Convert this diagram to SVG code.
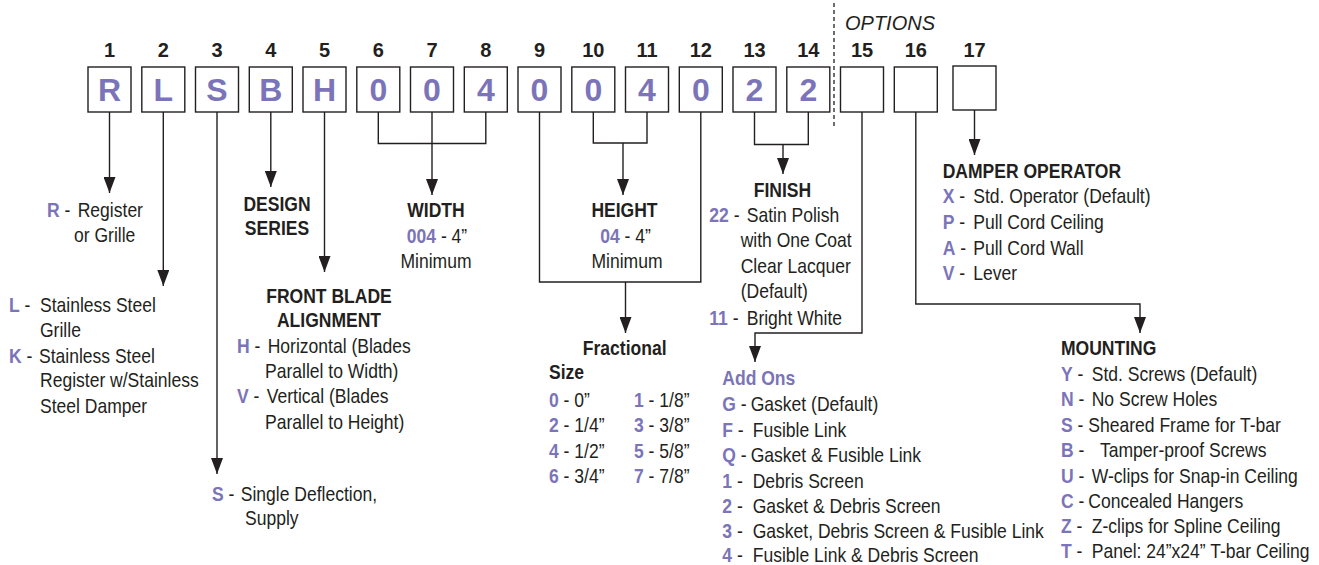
<svg xmlns="http://www.w3.org/2000/svg" width="1319" height="565" viewBox="0 0 1319 565">
<style>
text{font-family:"Liberation Sans",Arial,sans-serif;font-size:21px;fill:#231f20}
.b{font-weight:bold}
.k{font-weight:bold;fill:#7b74b8}
.n{font-weight:bold;font-size:20px;text-anchor:middle}
.c{text-anchor:middle}
.bx{fill:#fff;stroke:#231f20;stroke-width:1.4}
.bl{font-size:32px;font-weight:bold;fill:#7b74b8;text-anchor:middle}
.ln{fill:none;stroke:#231f20;stroke-width:1.4}
.opt{font-style:italic;font-size:20px}
</style>
<defs>
<marker id="ah" markerUnits="userSpaceOnUse" markerWidth="16" markerHeight="12" viewBox="0 0 16 12" refX="16" refY="6" orient="auto">
<path d="M0,0 L16,6 L0,12 Z" fill="#231f20"/>
</marker>
</defs>
<rect width="1319" height="565" fill="#fff"/>

<g id="header">
<text class="opt" x="845" y="30">OPTIONS</text>
<line x1="834" y1="3" x2="834" y2="128" stroke="#231f20" stroke-width="1.3" stroke-dasharray="4,3"/>
</g>

<g id="boxes">
<g id="box1"><text class="n" x="109.5" y="57">1</text><rect class="bx" x="88" y="67" width="43" height="45"/><text class="bl" x="109.5" y="101">R</text></g>
<g id="box2"><text class="n" x="163.3" y="57">2</text><rect class="bx" x="141.8" y="67" width="43" height="45"/><text class="bl" x="163.3" y="101">L</text></g>
<g id="box3"><text class="n" x="217" y="57">3</text><rect class="bx" x="195.5" y="67" width="43" height="45"/><text class="bl" x="217" y="101">S</text></g>
<g id="box4"><text class="n" x="270.8" y="57">4</text><rect class="bx" x="249.3" y="67" width="43" height="45"/><text class="bl" x="270.8" y="101">B</text></g>
<g id="box5"><text class="n" x="324.5" y="57">5</text><rect class="bx" x="303" y="67" width="43" height="45"/><text class="bl" x="324.5" y="101">H</text></g>
<g id="box6"><text class="n" x="378.3" y="57">6</text><rect class="bx" x="356.8" y="67" width="43" height="45"/><text class="bl" x="378.3" y="101">0</text></g>
<g id="box7"><text class="n" x="432" y="57">7</text><rect class="bx" x="410.5" y="67" width="43" height="45"/><text class="bl" x="432" y="101">0</text></g>
<g id="box8"><text class="n" x="485.8" y="57">8</text><rect class="bx" x="464.3" y="67" width="43" height="45"/><text class="bl" x="485.8" y="101">4</text></g>
<g id="box9"><text class="n" x="539.5" y="57">9</text><rect class="bx" x="518" y="67" width="43" height="45"/><text class="bl" x="539.5" y="101">0</text></g>
<g id="box10"><text class="n" x="593.3" y="57">10</text><rect class="bx" x="571.8" y="67" width="43" height="45"/><text class="bl" x="593.3" y="101">0</text></g>
<g id="box11"><text class="n" x="647" y="57">11</text><rect class="bx" x="625.5" y="67" width="43" height="45"/><text class="bl" x="647" y="101">4</text></g>
<g id="box12"><text class="n" x="700.8" y="57">12</text><rect class="bx" x="679.3" y="67" width="43" height="45"/><text class="bl" x="700.8" y="101">0</text></g>
<g id="box13"><text class="n" x="754.5" y="57">13</text><rect class="bx" x="733" y="67" width="43" height="45"/><text class="bl" x="754.5" y="101">2</text></g>
<g id="box14"><text class="n" x="808.3" y="57">14</text><rect class="bx" x="786.8" y="67" width="43" height="45"/><text class="bl" x="808.3" y="101">2</text></g>
<g id="box15"><text class="n" x="862" y="57">15</text><rect class="bx" x="840.5" y="67" width="43" height="45"/></g>
<g id="box16"><text class="n" x="915.8" y="57">16</text><rect class="bx" x="894.3" y="67" width="43" height="45"/></g>
<g id="box17"><text class="n" x="974.5" y="57">17</text><rect class="bx" x="953" y="66" width="43" height="44"/></g>
</g>

<g id="connectors" class="ln">
<path d="M109.5,112 V193" marker-end="url(#ah)"/>
<path d="M163.3,112 V286" marker-end="url(#ah)"/>
<path d="M217,112 V474" marker-end="url(#ah)"/>
<path d="M270.8,112 V187" marker-end="url(#ah)"/>
<path d="M324.5,112 V272" marker-end="url(#ah)"/>
<path d="M378.3,112 V143.5 H485.8 V112"/>
<path d="M432,112 V195" marker-end="url(#ah)"/>
<path d="M593.3,112 V143 H647 V112"/>
<path d="M623,143 V195" marker-end="url(#ah)"/>
<path d="M539.5,112 V282 H700.8 V112"/>
<path d="M625.5,282 V333" marker-end="url(#ah)"/>
<path d="M754.5,112 V144.5 H808.3 V112"/>
<path d="M783,144.5 V174" marker-end="url(#ah)"/>
<path d="M862,112 V333 H755 V362" marker-end="url(#ah)"/>
<path d="M915.8,112 V304 H1140 V333" marker-end="url(#ah)"/>
<path d="M974.5,110 V155" marker-end="url(#ah)"/>
</g>

<g id="register">
<text transform="matrix(0.835,0,0,1,7.755,0)" y="217"><tspan class="k" x="47">R</tspan> - <tspan x="83.8">Register</tspan></text>
<text transform="matrix(0.835,0,0,1,12.21,0)" x="74" y="242">or Grille</text>
</g>

<g id="material">
<text transform="matrix(0.835,0,0,1,1.485,0)" y="312.3"><tspan class="k" x="9">L</tspan> - <tspan x="46.1">Stainless Steel</tspan></text>
<text transform="matrix(0.835,0,0,1,6.6,0)" x="40" y="337.3">Grille</text>
<text transform="matrix(0.835,0,0,1,1.485,0)" y="362.7"><tspan class="k" x="9">K</tspan> - <tspan x="44.9">Stainless Steel</tspan></text>
<text transform="matrix(0.835,0,0,1,6.6,0)" x="40" y="387.5">Register w/Stainless</text>
<text transform="matrix(0.835,0,0,1,6.6,0)" x="40" y="413">Steel Damper</text>
</g>

<g id="deflection">
<text transform="matrix(0.835,0,0,1,34.98,0)" y="500.7"><tspan class="k" x="212">S</tspan> - <tspan x="246.4">Single Deflection,</tspan></text>
<text transform="matrix(0.835,0,0,1,40.425,0)" x="245" y="525">Supply</text>
</g>

<g id="design-series">
<text class="b c" transform="matrix(0.835,0,0,1,45.705,0)" x="277" y="210.7">DESIGN</text>
<text class="b c" transform="matrix(0.835,0,0,1,45.705,0)" x="277" y="235">SERIES</text>
</g>

<g id="front-blade">
<text class="b c" transform="matrix(0.835,0,0,1,54.285,0)" x="329" y="302.7">FRONT BLADE</text>
<text class="b c" transform="matrix(0.835,0,0,1,54.285,0)" x="329" y="327.3">ALIGNMENT</text>
<text transform="matrix(0.835,0,0,1,39.105,0)" y="352.7"><tspan class="k" x="237">H</tspan> - <tspan x="273.8">Horizontal (Blades</tspan></text>
<text transform="matrix(0.835,0,0,1,43.725,0)" x="265" y="377.7">Parallel to Width)</text>
<text transform="matrix(0.835,0,0,1,39.105,0)" y="403.3"><tspan class="k" x="237">V</tspan> - <tspan x="272.6">Vertical (Blades</tspan></text>
<text transform="matrix(0.835,0,0,1,43.725,0)" x="265" y="429">Parallel to Height)</text>
</g>

<g id="width">
<text class="b c" transform="matrix(0.835,0,0,1,71.94,0)" x="436" y="217.3">WIDTH</text>
<text class="c" transform="matrix(0.835,0,0,1,72.105,0)" x="437" y="242.7"><tspan class="k">004</tspan> - 4”</text>
<text class="c" transform="matrix(0.835,0,0,1,71.94,0)" x="436" y="268.3">Minimum</text>
</g>

<g id="height">
<text class="b c" transform="matrix(0.835,0,0,1,103.04,0)" x="624.5" y="217.3">HEIGHT</text>
<text class="c" transform="matrix(0.835,0,0,1,103.21,0)" x="625.5" y="242.7"><tspan class="k">04</tspan> - 4”</text>
<text class="c" transform="matrix(0.835,0,0,1,103.455,0)" x="627" y="268.3">Minimum</text>
</g>

<g id="fractional">
<text class="b c" transform="matrix(0.835,0,0,1,103.08,0)" x="624.7" y="355">Fractional</text>
<text class="b" transform="matrix(0.835,0,0,1,90.585,0)" x="549" y="379.3">Size</text>
<text transform="matrix(0.835,0,0,1,90.585,0)" x="549" y="407.3"><tspan class="k">0</tspan> - 0”</text>
<text transform="matrix(0.835,0,0,1,104.61,0)" x="634" y="407.3"><tspan class="k">1</tspan> - 1/8”</text>
<text transform="matrix(0.835,0,0,1,90.585,0)" x="549" y="432.5"><tspan class="k">2</tspan> - 1/4”</text>
<text transform="matrix(0.835,0,0,1,104.61,0)" x="634" y="432.5"><tspan class="k">3</tspan> - 3/8”</text>
<text transform="matrix(0.835,0,0,1,90.585,0)" x="549" y="457.7"><tspan class="k">4</tspan> - 1/2”</text>
<text transform="matrix(0.835,0,0,1,104.61,0)" x="634" y="457.7"><tspan class="k">5</tspan> - 5/8”</text>
<text transform="matrix(0.835,0,0,1,90.585,0)" x="549" y="482.7"><tspan class="k">6</tspan> - 3/4”</text>
<text transform="matrix(0.835,0,0,1,104.61,0)" x="634" y="482.7"><tspan class="k">7</tspan> - 7/8”</text>
</g>

<g id="finish">
<text class="b c" transform="matrix(0.835,0,0,1,129.11,0)" x="782.5" y="196.7">FINISH</text>
<text transform="matrix(0.835,0,0,1,117.03,0)" y="221.7"><tspan class="k" x="709.3">22</tspan> - <tspan x="754.1">Satin Polish</tspan></text>
<text transform="matrix(0.835,0,0,1,122.22,0)" x="740.7" y="247.3">with One Coat</text>
<text transform="matrix(0.835,0,0,1,122.22,0)" x="740.7" y="273.3">Clear Lacquer</text>
<text transform="matrix(0.835,0,0,1,122.22,0)" x="740.7" y="298.3">(Default)</text>
<text transform="matrix(0.835,0,0,1,117.03,0)" y="325"><tspan class="k" x="709.3">11</tspan> - <tspan x="754.1">Bright White</tspan></text>
</g>

<g id="add-ons">
<text class="k" transform="matrix(0.835,0,0,1,119.18,0)" x="722.3" y="385">Add Ons</text>
<text transform="matrix(0.835,0,0,1,119.18,0)" y="410.7"><tspan class="k" x="722.3">G</tspan> - <tspan x="756.3">Gasket (Default)</tspan></text>
<text transform="matrix(0.835,0,0,1,119.18,0)" y="436.7"><tspan class="k" x="722.3">F</tspan> - <tspan x="758.7">Fusible Link</tspan></text>
<text transform="matrix(0.835,0,0,1,119.18,0)" y="461.7"><tspan class="k" x="722.3">Q</tspan> - <tspan x="756.3">Gasket &amp; Fusible Link</tspan></text>
<text transform="matrix(0.835,0,0,1,119.18,0)" y="487.7"><tspan class="k" x="722.3">1</tspan> - <tspan x="758.7">Debris Screen</tspan></text>
<text transform="matrix(0.835,0,0,1,119.18,0)" y="512.7"><tspan class="k" x="722.3">2</tspan> - <tspan x="758.7">Gasket &amp; Debris Screen</tspan></text>
<text transform="matrix(0.835,0,0,1,119.18,0)" y="538"><tspan class="k" x="722.3">3</tspan> - <tspan x="758.7">Gasket, Debris Screen &amp; Fusible Link</tspan></text>
<text transform="matrix(0.835,0,0,1,119.18,0)" y="562.5"><tspan class="k" x="722.3">4</tspan> - <tspan x="758.7">Fusible Link &amp; Debris Screen</tspan></text>
</g>

<g id="damper-operator">
<text class="b" transform="matrix(0.835,0,0,1,155.55,0)" x="942.7" y="177.7">DAMPER OPERATOR</text>
<text transform="matrix(0.835,0,0,1,155.55,0)" y="203.3"><tspan class="k" x="942.7">X</tspan> - <tspan x="979.3">Std. Operator (Default)</tspan></text>
<text transform="matrix(0.835,0,0,1,155.55,0)" y="229.3"><tspan class="k" x="942.7">P</tspan> - <tspan x="979.3">Pull Cord Ceiling</tspan></text>
<text transform="matrix(0.835,0,0,1,155.55,0)" y="255"><tspan class="k" x="942.7">A</tspan> - <tspan x="979.3">Pull Cord Wall</tspan></text>
<text transform="matrix(0.835,0,0,1,155.55,0)" y="280"><tspan class="k" x="942.7">V</tspan> - <tspan x="979.3">Lever</tspan></text>
</g>

<g id="mounting">
<text class="b" transform="matrix(0.835,0,0,1,175.07,0)" x="1061" y="355">MOUNTING</text>
<text transform="matrix(0.835,0,0,1,175.07,0)" y="381"><tspan class="k" x="1061">Y</tspan> - <tspan x="1097.8">Std. Screws (Default)</tspan></text>
<text transform="matrix(0.835,0,0,1,175.07,0)" y="406"><tspan class="k" x="1061">N</tspan> - <tspan x="1097.8">No Screw Holes</tspan></text>
<text transform="matrix(0.835,0,0,1,175.07,0)" y="431.7"><tspan class="k" x="1061">S</tspan> - <tspan x="1093.7">Sheared Frame for T-bar</tspan></text>
<text transform="matrix(0.835,0,0,1,175.07,0)" y="456.7"><tspan class="k" x="1061">B</tspan> - <tspan x="1107.7">Tamper-proof Screws</tspan></text>
<text transform="matrix(0.835,0,0,1,175.07,0)" y="482.7"><tspan class="k" x="1061">U</tspan> - <tspan x="1097.8">W-clips for Snap-in Ceiling</tspan></text>
<text transform="matrix(0.835,0,0,1,175.07,0)" y="508.3"><tspan class="k" x="1061">C</tspan> - <tspan x="1093.7">Concealed Hangers</tspan></text>
<text transform="matrix(0.835,0,0,1,175.07,0)" y="533.3"><tspan class="k" x="1061">Z</tspan> - <tspan x="1097.8">Z-clips for Spline Ceiling</tspan></text>
<text transform="matrix(0.835,0,0,1,175.07,0)" y="558.3"><tspan class="k" x="1061">T</tspan> - <tspan x="1097.8">Panel: 24”x24” T-bar Ceiling</tspan></text>
</g>
</svg>
